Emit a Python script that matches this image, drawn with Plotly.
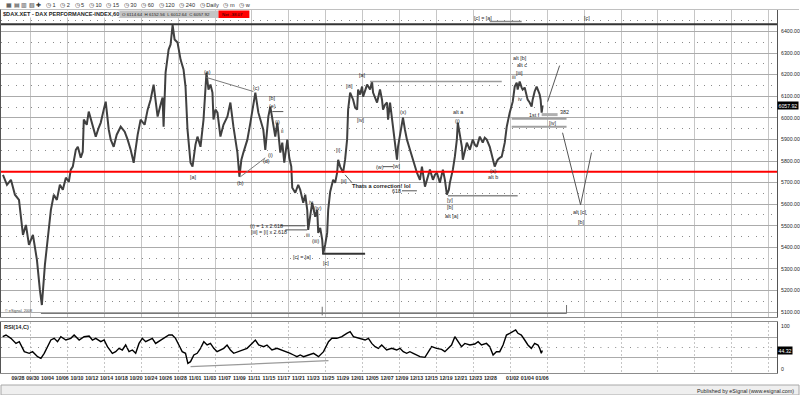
import plotly.graph_objects as go

# ---------------- data ----------------
# x = trading-day index (0 = 09/28), price of the 60-min DAX series
price_day = [-2.03,-1.49,-0.95,-0.41,0.14,0.68,1.08,1.49,2.03,2.57,2.97,3.24,3.65,4.05,4.46,4.86,5.27,5.68,6.08,6.49,6.89,7.16,7.43,7.84,8.11,8.51,8.78,8.92,9.32,9.59,
             10.14,10.54,10.95,11.22,11.62,11.89,12.30,12.57,12.97,13.38,13.92,14.46,14.86,15.27,15.68,16.22,16.62,17.16,17.57,17.97,18.38,18.92,19.32,19.59,19.73,20.00,20.41,20.68,20.95,21.22,
             21.62,22.03,22.43,22.70,22.97,23.24,23.38,23.65,24.05,24.32,24.73,25.14,25.54,25.81,26.08,26.35,26.49,26.76,27.03,27.43,27.84,28.38,28.78,29.19,29.46,29.73,30.00,30.27,30.54,31.08,
             31.49,31.89,32.16,32.57,32.84,33.24,33.51,33.92,34.19,34.59,34.86,35.14,35.54,35.81,36.08,36.49,36.76,37.03,37.16,37.57,37.97,38.24,38.65,38.92,39.19,39.32,39.59,39.86,40.27,40.54,
             40.68,40.95,41.22,41.35,41.62,41.89,42.03,42.30,42.70,42.97,43.24,43.38,43.65,44.05,44.32,44.59,44.73,45.00,45.41,45.68,45.95,46.08,46.35,46.62,46.76,47.03,47.30,47.70,47.97,48.11,
             48.38,48.65,49.05,49.32,49.46,49.73,50.00,50.14,50.41,50.81,51.08,51.35,51.49,51.76,52.03,52.16,52.43,52.70,53.11,53.51,53.78,54.05,54.46,54.73,55.14,55.54,55.81,56.22,56.49,56.76,
             57.16,57.57,57.84,58.11,58.38,58.51,58.92,59.19,59.46,59.59,59.86,60.14,60.27,60.54,60.81,61.22,61.62,61.89,62.16,62.57,62.97,63.24,63.51,63.92,64.32,64.59,64.86,65.00,65.27,65.54,
             65.95,66.22,66.62,67.03,67.30,67.57,67.70,67.97,68.24,68.38,68.65,68.92,69.05,69.32,69.59,69.73,70.00,70.27,70.54,70.68,70.81,70.95,71.08]
price_val = [5736,5690,5713,5644,5620,5458,5504,5412,5458,5342,5203,5133,5319,5458,5574,5644,5620,5690,5667,5723,5704,5760,5774,5852,5866,5815,5843,5992,5968,6029,
             5959,5913,5955,5978,6038,6075,5945,5899,5866,5922,5959,5936,5899,5852,5792,5922,5992,5968,6038,6084,6154,6006,6061,6094,5959,6210,6316,6340,6430,6363,
             6349,6270,6224,6145,5945,5852,5792,5774,5876,5913,5866,5992,6210,6131,6154,6117,5992,6038,6024,5913,5968,6006,6071,5959,5899,5839,5727,5806,5839,5899,
             5978,6052,6117,6024,5992,5945,5852,6006,6052,5959,5913,5978,5839,5885,5792,5899,5815,5774,5676,5653,5690,5667,5607,5644,5574,5481,5551,5607,5542,5574,
             5467,5490,5435,5370,5412,5467,5574,5658,5713,5699,5746,5806,5774,5746,5806,5899,6038,6117,6084,6047,6038,6131,6108,6145,6098,6122,6154,6131,6168,6117,
             6094,6071,6131,6084,6038,6061,6071,5992,6071,5959,5899,5806,5866,5922,5959,6001,5945,5899,5852,5806,5783,5746,5713,5774,5681,5723,5760,5713,5736,5746,
             5699,5760,5713,5644,5667,5699,5760,5820,5899,5978,5922,5866,5806,5852,5885,5852,5899,5876,5866,5913,5885,5908,5899,5866,5806,5774,5797,5806,5815,5820,
             5885,5959,6024,6075,6145,6163,6131,6168,6140,6131,6140,6108,6084,6071,6052,6084,6122,6145,6122,6108,6084,6024,6058]

rsi_day = [-2.07,-1.62,-0.95,-0.27,0.18,0.86,1.53,1.98,2.66,3.11,3.56,4.01,4.46,4.91,5.36,5.81,6.49,7.16,7.61,8.29,
           8.96,9.64,10.09,10.54,11.22,11.67,12.12,12.79,13.24,13.69,14.14,14.59,15.05,15.50,15.95,16.40,16.85,17.30,17.75,18.20,
           18.65,19.32,19.77,20.45,20.90,21.35,21.80,22.25,22.70,23.02,23.38,23.83,24.28,24.73,25.18,25.63,26.08,26.53,26.98,27.43,
           27.88,28.33,28.78,29.23,29.91,30.36,31.04,31.71,32.16,32.61,33.29,33.74,34.41,35.09,35.77,36.44,36.89,37.34,37.79,38.24,
           38.69,39.37,40.05,40.72,41.40,42.07,42.53,43.20,43.88,44.55,45.00,45.45,46.35,47.03,47.48,47.93,48.38,48.83,49.28,49.95,
           50.63,51.31,51.76,52.20,52.66,53.10,53.55,54.00,54.46,55.14,55.58,56.04,56.72,57.39,57.84,58.28,58.74,59.19,59.64,60.09,
           60.54,61.22,61.89,62.34,62.80,63.47,63.92,64.37,64.82,65.27,65.72,66.18,66.62,67.07,67.43,67.74,68.20,68.65,69.09,69.55,
           70.00,70.45,70.68,70.90,71.04]
rsi_val = [71.2,74.5,68.0,58.0,61.4,41.8,38.6,41.8,32.0,28.8,38.6,51.6,64.7,68.0,61.4,71.2,64.7,68.0,74.5,64.7,
           71.2,72.5,64.7,68.0,61.4,64.7,51.6,38.6,41.8,48.4,45.1,54.9,41.8,45.1,38.6,58.0,68.0,61.4,64.7,68.0,
           58.0,64.7,68.0,74.5,74.5,68.0,54.9,41.8,38.6,19.0,22.2,35.3,38.6,48.4,61.4,54.9,58.0,48.4,41.8,45.1,
           48.4,54.9,45.1,38.6,41.8,45.1,48.4,58.0,64.7,54.9,51.6,54.9,45.1,48.4,45.1,41.8,38.6,35.3,32.0,35.3,
           32.0,35.3,38.6,32.0,41.8,61.4,68.0,68.0,71.2,77.8,81.0,71.2,68.0,64.7,68.0,58.0,51.6,48.4,54.9,45.1,
           48.4,45.1,48.4,41.8,38.6,41.8,38.6,35.3,32.0,30.7,41.8,51.6,48.4,46.4,41.8,48.4,54.9,71.2,61.4,51.6,
           58.0,54.9,56.9,61.4,54.9,58.0,51.6,35.3,41.8,41.8,54.9,74.5,77.8,81.0,84.3,77.8,74.5,64.7,54.9,48.4,
           58.0,54.9,48.4,38.6,44.32]

date_labels = ["09/28","09/30","10/04","10/06","10/10","10/12","10/14","10/18","10/20","10/24","10/26","10/28",
               "11/01","11/03","11/07","11/09","11/11","11/15","11/17","11/21","11/23","11/25","11/29","12/01",
               "12/05","12/07","12/09","12/13","12/15","12/19","12/21","12/23","12/28","01/02","01/04","01/06"]
date_days = [0,2,4,6,8,10,12,14,16,18,20,22,24,26,28,30,32,34,36,38,40,42,44,46,48,50,52,54,56,58,60,62,64,67,69,71]

last_close = 6057.92
last_rsi = 44.32
bar_open, bar_high, bar_low, bar_close = 6114.64, 6152.56, 6012.64, 6057.92
net_change = -38.07
red_level = 5750
top_level = 6434

assert len(price_day) == len(price_val)
assert len(rsi_day) == len(rsi_val)
assert len(date_labels) == len(date_days)

# ---------------- figure ----------------
W, H = 800, 395
XR = [-2.297, 102.84]
FONT = "Liberation Sans, Arial, sans-serif"
TXT = "#1e1e1e"

def py(px):  # pixel row -> paper y
    return (H - px) / H

fig = go.Figure()
fig.add_trace(go.Scatter(x=price_day, y=price_val, mode="lines",
                         line=dict(color="#404040", width=2),
                         xaxis="x", yaxis="y", showlegend=False, hoverinfo="skip"))
fig.add_trace(go.Scatter(x=rsi_day, y=rsi_val, mode="lines",
                         line=dict(color="#000000", width=1.4),
                         xaxis="x2", yaxis="y2", showlegend=False, hoverinfo="skip"))
fig.add_trace(go.Scatter(x=[None], y=[None], xaxis="x3", yaxis="y2",
                         showlegend=False, hoverinfo="skip"))

grid_v = "#c6c6c6"
grid_h = "#ababab"
border = "#8c8c8c"

fig.update_layout(
    width=W, height=H, margin=dict(l=0, r=0, t=0, b=0),
    paper_bgcolor="white", plot_bgcolor="white",
    font=dict(family=FONT, size=6, color=TXT),
    xaxis=dict(domain=[0, 778 / W], range=XR, anchor="y",
               tickmode="linear", tick0=1.7, dtick=5, showticklabels=False, ticks="",
               showgrid=True, gridcolor=grid_v, gridwidth=1, zeroline=False,
               showline=True, mirror=True, linecolor=border, linewidth=1),
    yaxis=dict(domain=[py(317), py(10)], range=[5077.5, 6499.5], anchor="x", side="right",
               tickmode="linear", tick0=5100, dtick=100, tickformat=".2f",
               tickfont=dict(size=5.2, color=TXT), ticks="", ticklabelstandoff=2,
               showgrid=True, gridcolor=grid_h, gridwidth=1, zeroline=False,
               minor=dict(dtick=50, showgrid=True, gridcolor="#8a8a8a", griddash="1px,6.4px", gridwidth=1),
               showline=True, mirror=True, linecolor="#555555", linewidth=1),
    xaxis2=dict(domain=[0, 778 / W], range=XR, anchor="y2",
                tickmode="linear", tick0=1.7, dtick=5, showticklabels=False, ticks="",
                showgrid=True, gridcolor=grid_v, griddash="2px,2px", zeroline=False,
                showline=True, mirror=True, linecolor=border, linewidth=1),
    xaxis3=dict(overlaying="x2", anchor="y2", range=XR, side="bottom",
                tickmode="array", tickvals=date_days, ticktext=date_labels,
                tickfont=dict(size=5.2, color=TXT, weight="bold"), ticks="", tickangle=0,
                ticklabelstandoff=1, showgrid=False, zeroline=False, showline=False),
    yaxis2=dict(domain=[py(373), py(322)], range=[0, 100], anchor="x2", side="right",
                tickvals=[30, 70], showticklabels=False, ticks="",
                showgrid=True, gridcolor=grid_h, gridwidth=1, zeroline=False,
                showline=True, mirror=True, linecolor="#555555", linewidth=1),
)

shapes = []
def seg(x0, y0, x1, y1, color="#7a7a7a", width=1, yref="y", xref="x", dash=None):
    d = dict(type="line", xref=xref, yref=yref, x0=x0, y0=y0, x1=x1, y1=y1,
             line=dict(color=color, width=width))
    if dash:
        d["line"]["dash"] = dash
    shapes.append(d)

# reference levels
seg(XR[0], red_level, XR[1], red_level, color="#ff0000", width=2)
seg(XR[0], top_level, XR[1], top_level, color="#333333", width=2)
seg(XR[0], 50, XR[1], 50, color="#8a8a8a", width=1, yref="y2", dash="1px,6.4px")

# analyst trendlines / annotations
seg(25.54, 6187, 31.89, 6122)
seg(30.14, 5727, 33.51, 5815)
seg(34.46, 6029, 35.95, 6029, color="#555555")
seg(35.54, 5500, 38.92, 5500, color="#555555")
seg(36.22, 5481, 39.19, 5481, color="#555555")
seg(41.22, 5370, 47.03, 5370, color="#333333", width=2)
seg(44.32, 5736, 45.27, 5699, color="#555555")
seg(49.46, 5774, 50.81, 5774, color="#555555")
seg(52.03, 5662, 54.05, 5662, color="#555555")
seg(47.70, 6168, 65.54, 6168, color="#9a9a9a", width=1.5)
seg(58.24, 5639, 67.70, 5639, color="#8a8a8a", width=1.5)
seg(63.92, 6446, 68.24, 6446, color="#8a8a8a", width=1.5)
seg(70.95, 6015, 73.11, 6015, color="#b0b0b0", width=3)
seg(66.89, 5996, 74.32, 5996, color="#a0a0a0", width=2)
seg(66.89, 5959, 74.32, 5959, color="#a0a0a0", width=2)
seg(71.76, 6075, 73.38, 6242, color="#555555")
seg(73.78, 5931, 76.22, 5597, color="#555555")
seg(76.22, 5597, 77.70, 5839, color="#555555")
seg(3.11, 5094, 74.32, 5094, color="#707070")
seg(74.32, 5094, 74.32, 5133, color="#707070")
seg(41.22, 5085, 41.22, 5125, color="#707070")
seg(23.38, 12.4, 42.07, 24.1, color="#9a9a9a", width=1.2, yref="y2")

# page chrome
shapes.append(dict(type="line", xref="paper", yref="paper", x0=0, x1=1, y0=py(9.5), y1=py(9.5),
                   line=dict(color="#c0c0c0", width=1)))
shapes.append(dict(type="rect", xref="paper", yref="paper", x0=0, x1=1, y0=0, y1=py(385),
                   fillcolor="#efefef", line=dict(color="#a8a8a8", width=1)))
shapes.append(dict(type="rect", xref="paper", yref="paper", x0=117 / W, x1=218 / W, y0=py(18), y1=py(10.5),
                   fillcolor="#c4c4c4", line=dict(width=0)))
shapes.append(dict(type="rect", xref="paper", yref="paper", x0=218 / W, x1=249 / W, y0=py(18), y1=py(10.5),
                   fillcolor="#ff0000", line=dict(width=0)))
fig.update_layout(shapes=shapes)

ann = []
def lab(text, x, y, yref="y", size=5.4, xanchor="center", bold=False, color=TXT):
    ann.append(dict(text=text, x=x, y=y, xref="x", yref=yref, showarrow=False,
                    xanchor=xanchor, yanchor="middle",
                    font=dict(size=size, color=color, family=FONT, weight="bold" if bold else "normal")))

labels = [
    ("[a]", 23.65, 5727), ("(a)", 25.68, 6212), ("(b)", 30.14, 5699), ("(c)", 32.30, 6140),
    ("[b]", 34.46, 6092), ("(e)", 34.46, 6054), ("(i)", 35.14, 5980), ("ii", 35.81, 5941),
    ("(d)", 33.65, 5801), ("(i)", 34.2, 5830), ("iv", 39.73, 5611), ("(iv)", 40.68, 5583),
    ("iii", 39.32, 5458), ("(iii)", 40.27, 5430),
    ("(i) = 1 x 2.618", 33.65, 5497), ("[iii] = [i] x 2.618", 34.05, 5472),
    ("[c] = [a]", 38.51, 5356), ("[c]", 41.76, 5328), ("[i]", 43.38, 5852), ("[ii]", 44.19, 5709),
    ("[iii]", 44.86, 6149), ("[a]", 46.62, 6198), ("[iv]", 46.35, 5992),
    ("(w)", 49.05, 5774), ("[w]", 51.35, 5778), ("(x)", 52.16, 6029), ("618", 51.35, 5662),
    ("alt a", 59.59, 6026), ("(i)", 59.59, 5984), ("[y]", 58.51, 5620), ("[b]", 58.51, 5588),
    ("alt [a]", 58.78, 5546), ("(x)", 64.32, 5755), ("alt b", 64.32, 5727),
    ("alt [b]", 67.97, 6275), ("alt c", 68.24, 6247), ("[iii]", 67.97, 6210), ("iii", 67.16, 6187),
    ("iv", 67.97, 6089), ("1st f", 70.0, 6015), ("382", 74.05, 6029), ("[iv]", 72.43, 5978),
    ("alt [c]", 76.08, 5565), ("[b]", 76.22, 5518), ("[c] = [a]", 62.97, 6462), ("[c]", 77.03, 6462),
]
for t, x, y in labels:
    lab(t, x, y)
lab("Thats a correction! lol", 45.0, 5686, xanchor="left", size=5.6, bold=True)

def pann(text, x, y, xanchor="left", size=5.5, bold=False, color=TXT, bg=None):
    d = dict(text=text, x=x, y=y, xref="paper", yref="paper", showarrow=False,
             xanchor=xanchor, yanchor="middle",
             font=dict(size=size, color=color, family=FONT, weight="bold" if bold else "normal"))
    if bg:
        d["bgcolor"] = bg
        d["borderpad"] = 0
    ann.append(d)

pann("$DAX.XET - DAX PERFORMANCE-INDEX,60", 1 / W, py(14.3), size=5.6, bold=True, bg="white")
pann(f"O {bar_open:.2f}  H {bar_high:.2f}  L {bar_low:.2f}  C {bar_close:.2f}", 119 / W, py(14.3), size=4.4)
pann(f"Net {net_change:.2f}", 220 / W, py(14.3), size=4.4, color="#200000")
pann("▦ ▤ ▥ ▧ ✚   ◷ 1   ◷ 2   ◷ 5   ◷ 10   ◷ 15   ◷ 30   ◷ 60   ◷ 120   ◷ 240   ◷ Daily   ◷ m   ◷ w",
     3 / W, py(4.8), size=5.6, color="#303030")
pann("© eSignal, 2008", 2 / W, py(311), size=3.8, color="#444444")
pann("RSI(14,C)", 1 / W, py(327), size=5.6, bold=True)
pann("100", 780 / W, py(326), size=5.2)
pann("0", 780 / W, py(369), size=5.2)
pann("Published by eSignal (www.esignal.com)", 797 / W, py(390.5), xanchor="right", size=5.4)

ann.append(dict(text=f"{last_close:.2f}", x=778 / W, y=last_close, xref="paper", yref="y",
                showarrow=False, xanchor="left", yanchor="middle", bgcolor="#000000", borderpad=0.5,
                font=dict(size=5.2, color="white", family=FONT)))
ann.append(dict(text=f"{last_rsi:.2f}", x=778 / W, y=last_rsi, xref="paper", yref="y2",
                showarrow=False, xanchor="left", yanchor="middle", bgcolor="#000000", borderpad=0.5,
                font=dict(size=5.2, color="white", family=FONT)))

fig.update_layout(annotations=ann)
fig.write_html("out.html")
